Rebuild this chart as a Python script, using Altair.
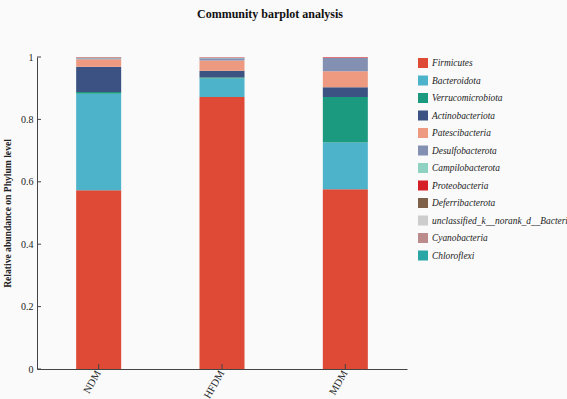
import altair as alt
import pandas as pd

samples = ["NDM", "HFDM", "MDM"]
phyla = [
    "Firmicutes", "Bacteroidota", "Verrucomicrobiota", "Actinobacteriota",
    "Patescibacteria", "Desulfobacterota", "Campilobacterota", "Proteobacteria",
    "Deferribacterota", "unclassified_k__norank_d__Bacteria", "Cyanobacteria",
    "Chloroflexi",
]
colors = [
    "#DE4A36", "#4DB3CB", "#1C9A80", "#3B5283", "#EE9A80", "#8390B2",
    "#90D2C2", "#D62027", "#7E6148", "#CDCDCD", "#BC8C8C", "#2AA6A6",
]
y_ticks = [0, 0.2, 0.4, 0.6, 0.8, 1]
y_title = "Relative abundance on Phylum level"

# relative abundance per sample, one list per phylum (order as in `phyla`)
ndm = [0.573, 0.309, 0.006, 0.081, 0.024, 0.003, 0.001, 0.001, 0.001, 0.001, 0.0, 0.0]
hfdm = [0.872, 0.059, 0.003, 0.022, 0.033, 0.007, 0.001, 0.001, 0.0, 0.001, 0.001, 0.0]
mdm = [0.576, 0.150, 0.146, 0.031, 0.051, 0.043, 0.0, 0.002, 0.0, 0.001, 0.0, 0.0]

rows = []
for sample, vals in zip(samples, [ndm, hfdm, mdm]):
    for i, (p, v) in enumerate(zip(phyla, vals)):
        rows.append({"sample": sample, "phylum": p, "rank": i, "value": v})
df = pd.DataFrame(rows)

serif = "Liberation Serif"
axis_color = "#444444"

bars = (
    alt.Chart(df)
    .mark_bar()
    .encode(
        x=alt.X(
            "sample:N",
            sort=samples,
            title=None,
            scale=alt.Scale(paddingInner=0.635, paddingOuter=0.3175),
            axis=alt.Axis(
                labelAngle=-60,
                labelAlign="right",
                labelBaseline="middle",
                labelFont=serif,
                labelFontSize=10.5,
                labelColor="#222222",
                labelPadding=2,
                ticks=False,
                domainColor=axis_color,
            ),
        ),
        y=alt.Y(
            "value:Q",
            stack="zero",
            scale=alt.Scale(domain=[0, 1], nice=False),
            title=y_title,
            axis=alt.Axis(
                values=y_ticks,
                format=".1~f",
                grid=False,
                labelFont=serif,
                labelFontSize=10,
                labelColor="#222222",
                labelPadding=4,
                ticks=False,
                domainColor=axis_color,
                titleFont=serif,
                titleFontSize=9.6,
                titleFontWeight="bold",
                titleColor="#222222",
                titlePadding=8,
            ),
        ),
        color=alt.Color(
            "phylum:N",
            scale=alt.Scale(domain=phyla, range=colors),
            legend=alt.Legend(
                title=None,
                orient="none",
                legendX=381,
                legendY=1,
                symbolType="square",
                symbolSize=100,
                symbolStrokeWidth=0,
                labelFont=serif,
                labelFontStyle="italic",
                labelFontSize=9.4,
                labelColor="#222222",
                rowPadding=7.5,
                labelLimit=200,
            ),
        ),
        order=alt.Order("rank:Q", sort="ascending"),
    )
)

# short inward tick marks on both axes
x_tick_marks = (
    alt.Chart(pd.DataFrame({"sample": samples}))
    .mark_rule(color=axis_color, strokeWidth=1)
    .encode(
        x=alt.X("sample:N", sort=samples, title=None),
        y=alt.value(312),
        y2=alt.value(307),
    )
)
y_tick_marks = (
    alt.Chart(pd.DataFrame({"value": y_ticks}))
    .mark_rule(color=axis_color, strokeWidth=1)
    .encode(
        y=alt.Y("value:Q", title=y_title),
        x=alt.value(0),
        x2=alt.value(4),
    )
)

chart = (
    alt.layer(bars, x_tick_marks, y_tick_marks)
    .properties(
        width=370,
        height=312,
        autosize=alt.AutoSizeParams(type="none"),
        padding={"left": 37, "top": 57, "right": 160, "bottom": 30},
        background="#fafafa",
        title=alt.TitleParams(
            "Community barplot analysis",
            font=serif,
            fontSize=12,
            fontWeight="bold",
            color="#111111",
            anchor="middle",
            dx=48,
            offset=31,
        ),
    )
    .configure_view(stroke=None)
)

chart.save("out.html", embed_options={"renderer": "svg", "actions": False})
